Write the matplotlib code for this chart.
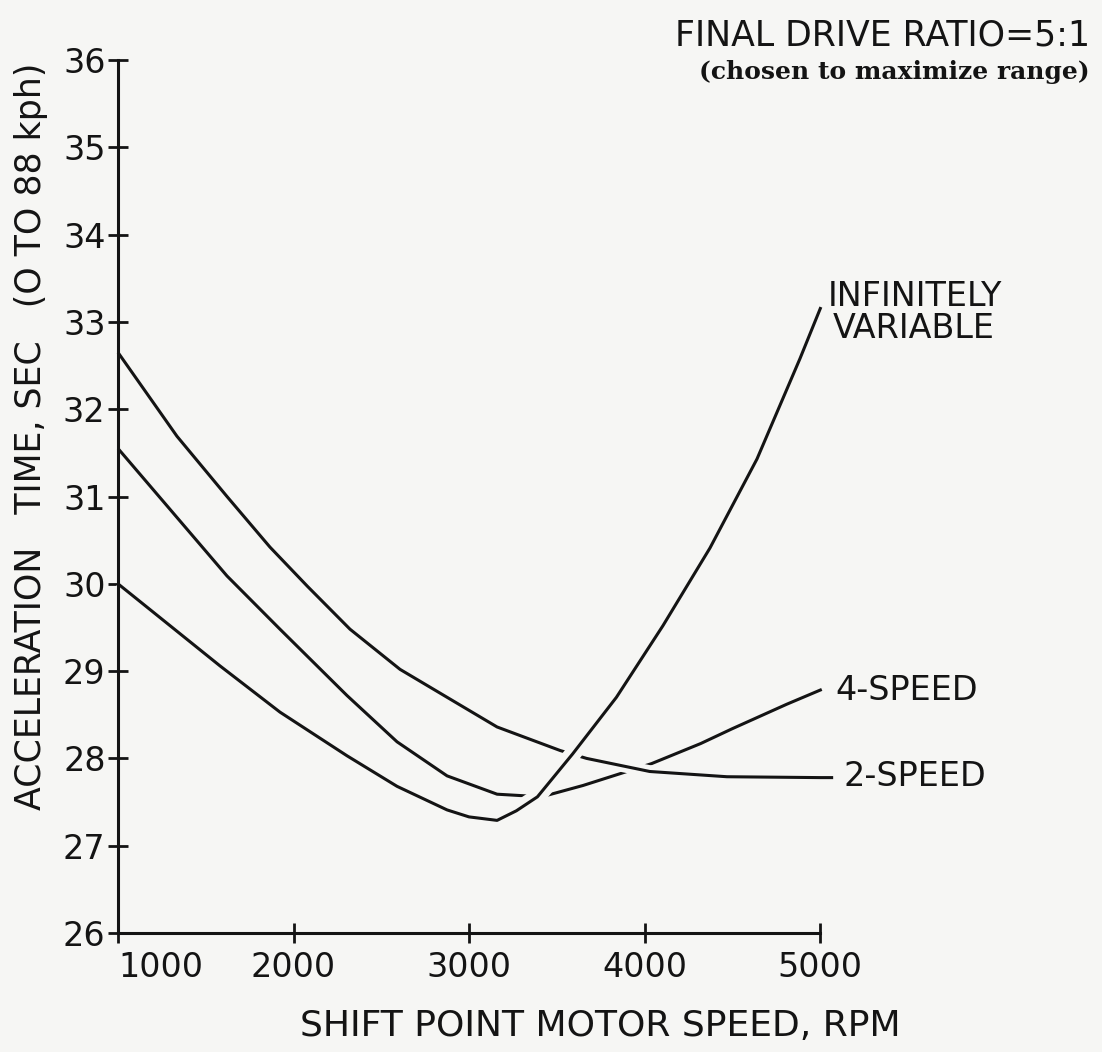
import matplotlib
matplotlib.use("Agg")
import matplotlib.pyplot as plt
import matplotlib.patheffects as pe

# Acceleration time (0 to 88 kph) vs. shift point motor speed
rpm_2speed = [1000, 1336, 1621, 1866, 2080, 2322, 2607, 2875, 3160, 3520, 3670, 4030, 4470, 5000, 5075]
sec_2speed = [32.65, 31.69, 31.00, 30.42, 29.97, 29.48, 29.02, 28.70, 28.36, 28.09, 28.00, 27.85, 27.79, 27.78, 27.78]

rpm_4speed = [1000, 1336, 1621, 1923, 2305, 2590, 2875, 3160, 3330, 3450, 3650, 3900, 4040, 4320, 4500, 4810, 5010]
sec_4speed = [31.55, 30.76, 30.09, 29.48, 28.72, 28.19, 27.80, 27.59, 27.57, 27.58, 27.69, 27.85, 27.94, 28.17, 28.34, 28.62, 28.79]

rpm_iv = [1000, 1340, 1581, 1923, 2305, 2590, 2875, 3000, 3160, 3270, 3390, 3590, 3840, 4105, 4373, 4641, 4886, 5005]
sec_iv = [30.00, 29.45, 29.06, 28.53, 28.03, 27.68, 27.41, 27.33, 27.29, 27.40, 27.56, 28.05, 28.70, 29.52, 30.41, 31.43, 32.58, 33.17]

x_ticks = [1000, 2000, 3000, 4000, 5000]
y_ticks = [26, 27, 28, 29, 30, 31, 32, 33, 34, 35, 36]

INK = "#141414"
PAPER = "#f6f6f4"

W, H = 1102, 1052
fig = plt.figure(figsize=(W / 100, H / 100), dpi=100, facecolor=PAPER)
left, right, bottom, top = 118, 820, 933, 60
ax = fig.add_axes([left / W, 1 - bottom / H, (right - left) / W, (bottom - top) / H])
ax.set_facecolor(PAPER)
ax.set_xlim(1000, 5000)
ax.set_ylim(26, 36)
ax.set_axisbelow(False)

for s in ("top", "right"):
    ax.spines[s].set_visible(False)
for s in ("left", "bottom"):
    ax.spines[s].set_linewidth(2.2)
    ax.spines[s].set_color(INK)
    ax.spines[s].set_zorder(5)

ax.set_xticks(x_ticks)
ax.set_yticks(y_ticks)
ax.set_xticklabels([str(v) for v in x_ticks])
ax.set_yticklabels([str(v) for v in y_ticks])
ax.tick_params(direction="inout", length=14, width=2, color=INK,
               labelsize=24, labelcolor=INK)
ax.tick_params(axis="x", pad=6)
ax.tick_params(axis="y", pad=2)
ax.get_xticklabels()[0].set_horizontalalignment("left")

lw = 2.2
# 4-speed drawn first, then the other curves with a paper-coloured halo
# so that the line underneath is broken where they cross.
ax.plot(rpm_4speed, sec_4speed, color=INK, lw=lw, clip_on=False, zorder=2,
        solid_capstyle="butt", solid_joinstyle="round")
ax.plot(rpm_2speed, sec_2speed, color=INK, lw=lw, clip_on=False, zorder=3,
        solid_capstyle="butt", solid_joinstyle="round",
        path_effects=[pe.Stroke(linewidth=9, foreground=PAPER, capstyle="butt"), pe.Normal()])
ax.plot(rpm_iv, sec_iv, color=INK, lw=lw, clip_on=False, zorder=4,
        solid_capstyle="butt", solid_joinstyle="round",
        path_effects=[pe.Stroke(linewidth=12, foreground=PAPER, capstyle="butt"), pe.Normal()])

# Curve labels
lab = dict(color=INK, fontsize=24, ha="left", va="center")
fig.text(828 / W, 1 - 296 / H, "INFINITELY", **lab)
fig.text(833 / W, 1 - 328 / H, "VARIABLE", **lab)
fig.text(835 / W, 1 - 690 / H, "4-SPEED", **lab)
fig.text(843 / W, 1 - 777 / H, "2-SPEED", **lab)

# Header
fig.text(1090 / W, 1 - 36 / H, "FINAL DRIVE RATIO=5:1", color=INK, fontsize=25,
         ha="right", va="center")
fig.text(1090 / W, 1 - 72 / H, "(chosen to maximize range)", color=INK, fontsize=18,
         family="DejaVu Serif", weight="bold", ha="right", va="center")

# Axis titles
fig.text(31 / W, 1 - 436 / H, "ACCELERATION   TIME, SEC   (O TO 88 kph)", color=INK,
         fontsize=25, rotation=90, ha="center", va="center")
fig.text(600 / W, 1 - 1026 / H, "SHIFT POINT MOTOR SPEED, RPM", color=INK,
         fontsize=26, ha="center", va="center")

fig.savefig("out.png", dpi=100, facecolor=PAPER)
